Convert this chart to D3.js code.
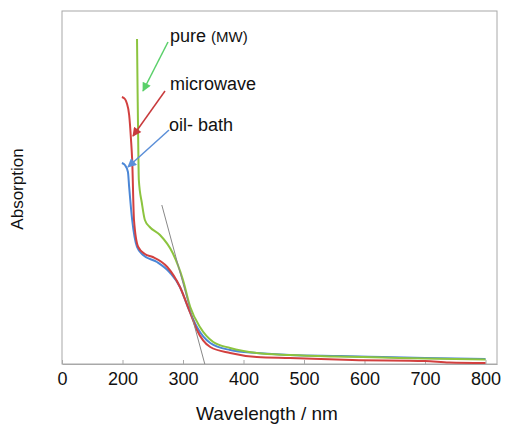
<!DOCTYPE html>
<html>
<head>
<meta charset="utf-8">
<script src="https://cdn.jsdelivr.net/npm/d3@7"></script>
<style>
  body { margin: 0; background: #fff; }
  svg text { font-family: "Liberation Sans", Arial, sans-serif; fill: #111; }
</style>
</head>
<body>
<div id="chart"></div>
<script>
// wavelength (nm) / absorption (a.u.)
const pureWl = [224, 225, 226, 227, 232, 237, 245, 262, 283, 300, 312, 328, 350, 378, 422, 477, 550, 630, 700, 800];
const pureAbs = [3.25, 2.7, 2.2, 1.84, 1.61, 1.44, 1.37, 1.29, 1.11, 0.84, 0.57, 0.37, 0.22, 0.16, 0.11, 0.09, 0.075, 0.065, 0.055, 0.045];

const microWl = [199, 204, 207, 211, 214, 216, 219, 226, 237, 250, 274, 295, 312, 323, 345, 378, 422, 477, 580, 700, 740, 800];
const microAbs = [2.67, 2.65, 2.61, 2.49, 2.25, 2.04, 1.44, 1.17, 1.10, 1.07, 0.97, 0.77, 0.51, 0.34, 0.17, 0.11, 0.07, 0.06, 0.04, 0.03, 0.015, 0.01];

const oilWl = [199, 204, 209, 211, 216, 224, 234, 257, 279, 295, 308, 323, 345, 378, 422, 477, 560, 630, 700, 800];
const oilAbs = [2.01, 1.99, 1.92, 1.77, 1.44, 1.17, 1.09, 1.02, 0.91, 0.77, 0.57, 0.37, 0.21, 0.14, 0.11, 0.09, 0.08, 0.07, 0.06, 0.05];

// tangent used for the band-gap estimate
const tangentWl = [265, 336];
const tangentAbs = [1.59, 0];

const xTicks = [100, 200, 300, 400, 500, 600, 700, 800];
const xTickLabels = ["0", "200", "300", "400", "500", "600", "700", "800"];

const width = 507, height = 425;
const margin = { top: 11, right: 10, bottom: 61, left: 62 };

const svg = d3.select("#chart").append("svg")
  .attr("width", width)
  .attr("height", height);

const x = d3.scaleLinear()
  .domain([100, 819])
  .range([margin.left, width - margin.right]);

const y = d3.scaleLinear()
  .domain([0, 3.53])
  .range([height - margin.bottom, margin.top]);

// frame
svg.append("rect")
  .attr("x", margin.left)
  .attr("y", margin.top)
  .attr("width", width - margin.right - margin.left)
  .attr("height", height - margin.bottom - margin.top)
  .attr("fill", "none")
  .attr("stroke", "#a8a8a8")
  .attr("stroke-width", 1);

// x axis, ticks pointing inside
const xAxis = d3.axisBottom(x)
  .tickValues(xTicks)
  .tickFormat((d, i) => xTickLabels[i])
  .tickSizeInner(-4)
  .tickSizeOuter(0)
  .tickPadding(8);

const gx = svg.append("g")
  .attr("transform", "translate(0," + (height - margin.bottom) + ")")
  .call(xAxis);
gx.select(".domain").attr("stroke", "#a8a8a8");
gx.selectAll(".tick line").attr("stroke", "#a8a8a8");
gx.selectAll(".tick text")
  .attr("font-size", 18)
  .attr("font-family", "Liberation Sans, Arial, sans-serif")
  .attr("fill", "#111");

// axis titles
svg.append("text")
  .attr("x", 267)
  .attr("y", 420)
  .attr("text-anchor", "middle")
  .attr("font-size", 19)
  .text("Wavelength / nm");

svg.append("text")
  .attr("transform", "translate(23,189) rotate(-90)")
  .attr("text-anchor", "middle")
  .attr("font-size", 17)
  .text("Absorption");

// curves
const line = d3.line()
  .x(d => x(d[0]))
  .y(d => y(d[1]))
  .curve(d3.curveMonotoneX);

const series = [
  { wl: oilWl, abs: oilAbs, color: "#4a86d6" },
  { wl: pureWl, abs: pureAbs, color: "#8cc43f" },
  { wl: microWl, abs: microAbs, color: "#d2403f" }
];

series.forEach(s => {
  svg.append("path")
    .attr("d", line(s.wl.map((w, i) => [w, s.abs[i]])))
    .attr("fill", "none")
    .attr("stroke", s.color)
    .attr("stroke-width", 2);
});

svg.append("path")
  .attr("d", d3.line().x(d => x(d[0])).y(d => y(d[1]))(tangentWl.map((w, i) => [w, tangentAbs[i]])))
  .attr("stroke", "#888")
  .attr("stroke-width", 1)
  .attr("fill", "none");

// annotations with arrows
const defs = svg.append("defs");
function marker(id, color) {
  defs.append("marker")
    .attr("id", id)
    .attr("viewBox", "0 0 10 10")
    .attr("refX", 9).attr("refY", 5)
    .attr("markerWidth", 10).attr("markerHeight", 9)
    .attr("markerUnits", "userSpaceOnUse")
    .attr("orient", "auto")
    .append("path")
    .attr("d", "M0,0 L10,5 L0,10 z")
    .attr("fill", color);
}

const labels = [
  { id: "arrG", color: "#5ad06a", from: [168, 42], to: [143, 91] },
  { id: "arrR", color: "#c83a3c", from: [165, 91], to: [133, 136] },
  { id: "arrB", color: "#5b8fd8", from: [169, 130], to: [128, 167] }
];

labels.forEach(l => {
  marker(l.id, l.color);
  svg.append("line")
    .attr("x1", l.from[0]).attr("y1", l.from[1])
    .attr("x2", l.to[0]).attr("y2", l.to[1])
    .attr("stroke", l.color)
    .attr("stroke-width", 1.5)
    .attr("marker-end", "url(#" + l.id + ")");
});

const pure = svg.append("text")
  .attr("x", 170).attr("y", 42)
  .attr("font-size", 18);
pure.append("tspan").text("pure ");
pure.append("tspan").attr("font-size", 15).text("(MW)");

svg.append("text")
  .attr("x", 170).attr("y", 90)
  .attr("font-size", 18)
  .text("microwave");

svg.append("text")
  .attr("x", 169).attr("y", 131)
  .attr("font-size", 18)
  .text("oil- bath");
</script>
</body>
</html>
